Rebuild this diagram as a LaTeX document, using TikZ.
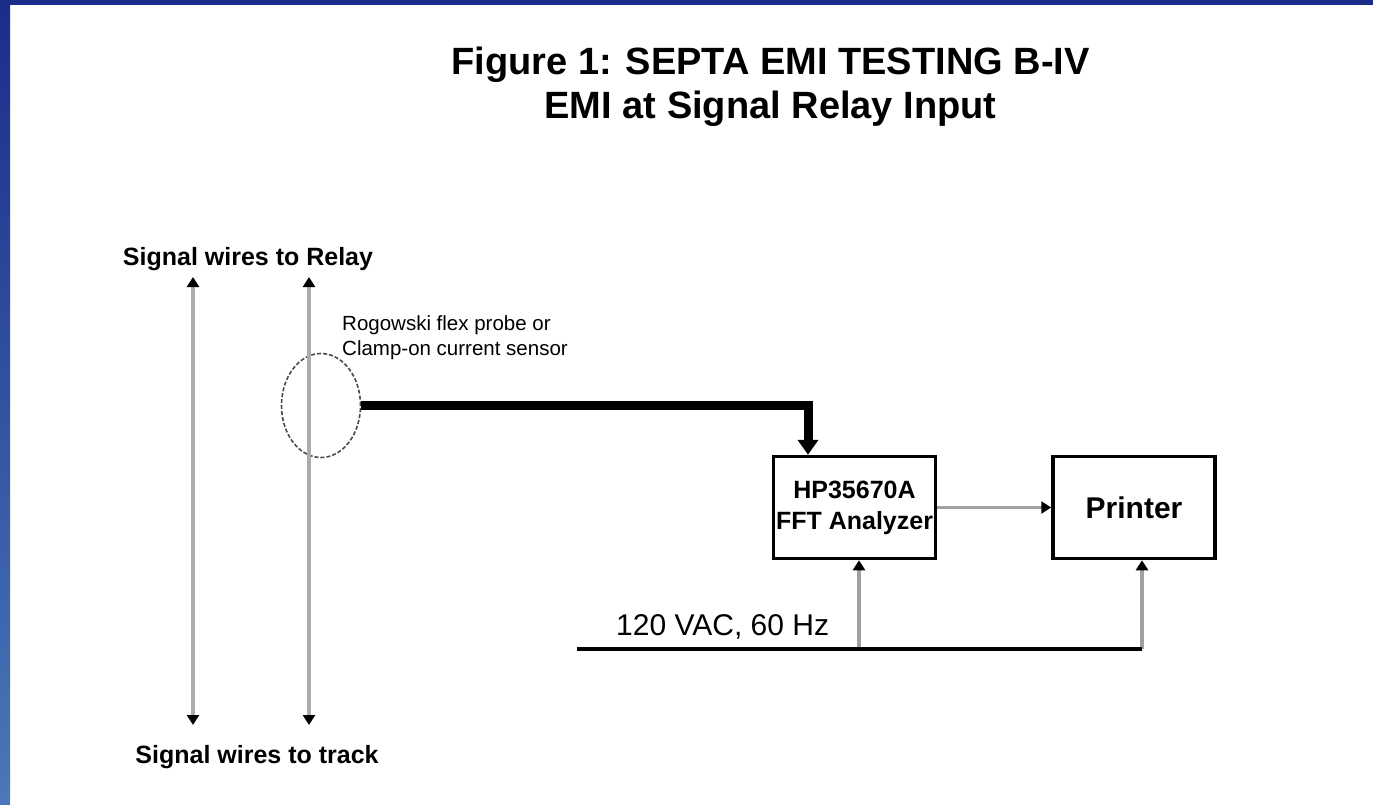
\documentclass[tikz,border=0pt]{standalone}
\usepackage{fontspec}
\setmainfont{Liberation Sans}
\usetikzlibrary{arrows.meta,shapes.geometric}
\definecolor{barblue}{RGB}{27,45,138}
\definecolor{barlight}{RGB}{74,120,184}
\definecolor{wiregray}{RGB}{172,172,172}
\definecolor{feedgray}{RGB}{160,160,160}
\definecolor{probegray}{RGB}{75,75,75}
\begin{document}
\begin{tikzpicture}[x=1pt,y=-1pt,
  titletext/.style={font=\fontsize{38}{44}\selectfont\bfseries, anchor=base, inner sep=0pt},
  labeltext/.style={font=\fontsize{25}{30}\selectfont\bfseries, anchor=base, inner sep=0pt},
  smalltext/.style={font=\fontsize{20.5}{25}\selectfont, anchor=base west, inner sep=0pt},
  actext/.style={font=\fontsize{30}{36}\selectfont, anchor=base west, inner sep=0pt},
  box/.style={draw=black, line width=3.5pt, minimum width=162pt, minimum height=102pt, inner sep=0pt, align=center},
  smalltip/.style={-{Triangle[length=10pt,width=12pt,color=black]}},
  wire/.style={draw=wiregray, line width=4pt, {Triangle[length=10pt,width=12pt,color=black]}-{Triangle[length=10pt,width=12pt,color=black]}},
  feed/.style={draw=feedgray, line width=3.5pt, smalltip},
  probeline/.style={draw=black, line width=9pt, line join=miter, -{Triangle[length=15pt,width=20pt]}},
  probe/.style={ellipse, draw=probegray, line width=1.6pt, dash pattern=on 4pt off 2pt, minimum width=79pt, minimum height=104pt, inner sep=0pt}
]
\useasboundingbox (0,0) rectangle (1373,804);
\fill[white] (0,0) rectangle (1373,804);
% frame bars
\shade[top color=barblue, bottom color=barlight] (0,0) rectangle (10,804);
\fill[barblue] (0,0) rectangle (1373,5);

% title
\node[titletext] (title1) at (770.5,74) {Figure 1: SEPTA EMI TESTING B-IV};
\node[titletext] (title2) at (770.5,118) {EMI at Signal Relay Input};

% wire labels
\node[labeltext] (relaylbl) at (248,265) {Signal wires to Relay};
\node[labeltext] (tracklbl) at (257,763) {Signal wires to track};

% probe
\node[probe] (probe) at (321,405.5) {};
\node[smalltext] (probelbl1) at (342,330) {Rogowski flex probe or};
\node[smalltext] (probelbl2) at (342,355) {Clamp-on current sensor};

% signal wires
\coordinate (wl1) at (193,277);
\coordinate (wl2) at (193,725);
\coordinate (wr1) at (309,277);
\coordinate (wr2) at (309,725);
\draw[wire] (wl1) -- (wl2);
\draw[wire] (wr1) -- (wr2);

% boxes
\node[box, font=\fontsize{25}{31}\selectfont\bfseries] (hp) at (854.5,507.5) {HP35670A\\FFT Analyzer};
\node[box, font=\fontsize{30}{36}\selectfont\bfseries] (printer) at (1134,507.5) {Printer};

% connectors
\draw[probeline] (probe.east) -| ([xshift=-46.5pt]hp.north);
\draw[feed] (hp.east) -- (printer.west);

% power
\coordinate (acin) at (577,649);
\coordinate (hpfeed) at (859,649);
\coordinate (prfeed) at (1142,649);
\draw[feed] (hpfeed) -- (hpfeed |- hp.south);
\draw[feed] (prfeed) -- (prfeed |- printer.south);
\draw[black, line width=3.5pt] (acin) -- (prfeed);
\node[actext] (aclbl) at (616,635) {120 VAC, 60 Hz};
\end{tikzpicture}
\end{document}
